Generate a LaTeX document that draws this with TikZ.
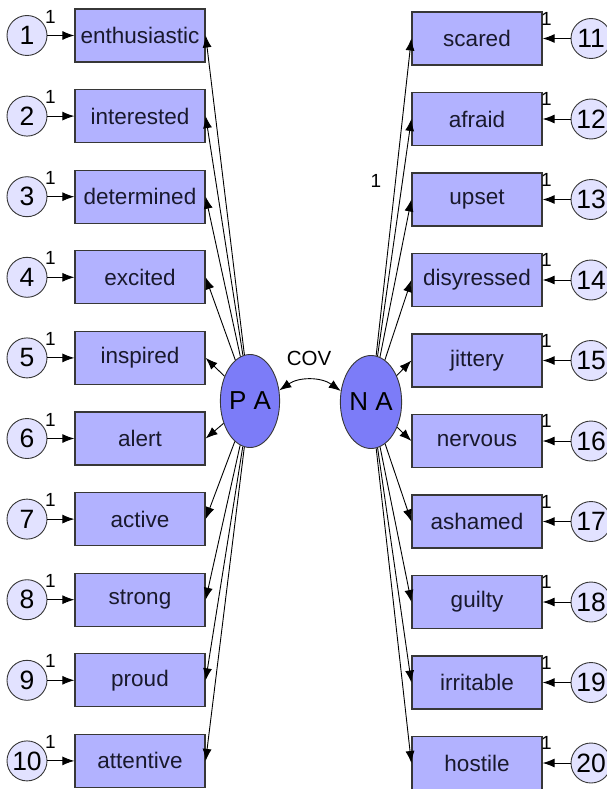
\documentclass[tikz,border=0pt]{standalone}
\usepackage{fontspec}
\setmainfont{Liberation Sans}
\usetikzlibrary{arrows.meta,shapes.geometric}
\definecolor{boxfill}{RGB}{178,178,255}
\definecolor{errfill}{RGB}{226,226,255}
\definecolor{latfill}{RGB}{124,124,248}
\definecolor{edgecol}{RGB}{55,55,55}
\definecolor{txtcol}{RGB}{25,25,45}
\begin{document}
\begin{tikzpicture}[x=1pt,y=1pt,
  obs/.style={draw=edgecol,line width=1.3pt,fill=boxfill,minimum width=130pt,minimum height=53pt,inner sep=0pt,text=txtcol,font=\fontsize{22.5}{24}\selectfont},
  err/.style={circle,draw=edgecol,line width=0.9pt,fill=errfill,minimum size=40pt,inner sep=0pt,font=\fontsize{26.5}{28}\selectfont},
  lat/.style={ellipse,draw=edgecol,line width=0.9pt,fill=latfill,minimum width=57pt,minimum height=93pt,inner sep=0pt,font=\fontsize{26}{28}\selectfont},
  arr/.style={-{Latex[length=12pt,width=9pt]},line width=0.9pt},
  dbl/.style={{Latex[length=12pt,width=9pt]}-{Latex[length=12pt,width=9pt]},line width=0.9pt},
  one/.style={font=\fontsize{19}{20}\selectfont}]
\useasboundingbox (0,0) rectangle (606,-789);
% latent variables
\node[lat] (PA) at (250,-401) {P A};
\node[lat] (NA) at (371,-402) {N A};
% left side
\foreach \i/\t in {1/enthusiastic,2/interested,3/determined,4/excited,5/inspired,6/alert,7/active,8/strong,9/proud,10/attentive}{
  \pgfmathsetmacro\yy{-(35.5+(\i-1)*80.6)}
  \node[obs] (L\i) at (140,\yy) {\t};
  \node[err] (E\i) at (27,\yy) {\i};
  \draw[arr] (E\i) -- (L\i);
  \node[one] (LO\i) at (50.5,\yy+19) {1};
  \draw[arr] (PA) -- (L\i.east);
}
% right side
\foreach \i/\t in {11/scared,12/afraid,13/upset,14/disyressed,15/jittery,16/nervous,17/ashamed,18/guilty,19/irritable,20/hostile}{
  \pgfmathsetmacro\yy{-(38.5+(\i-11)*80.5)}
  \node[obs] (R\i) at (477,\yy) {\t};
  \node[err] (E\i) at (591,\yy) {\i};
  \draw[arr] (E\i) -- (R\i);
  \node[one] (RO\i) at (546.5,\yy+20) {1};
  \draw[arr] (NA) -- (R\i.west);
}
\node[one] (NAone) at (376,-181) {1};
% covariance
\draw[dbl] (PA.20) to[bend left=35] (NA.160);
\node[font=\fontsize{20.5}{22}\selectfont] (cov) at (309,-358) {COV};
\end{tikzpicture}
\end{document}
